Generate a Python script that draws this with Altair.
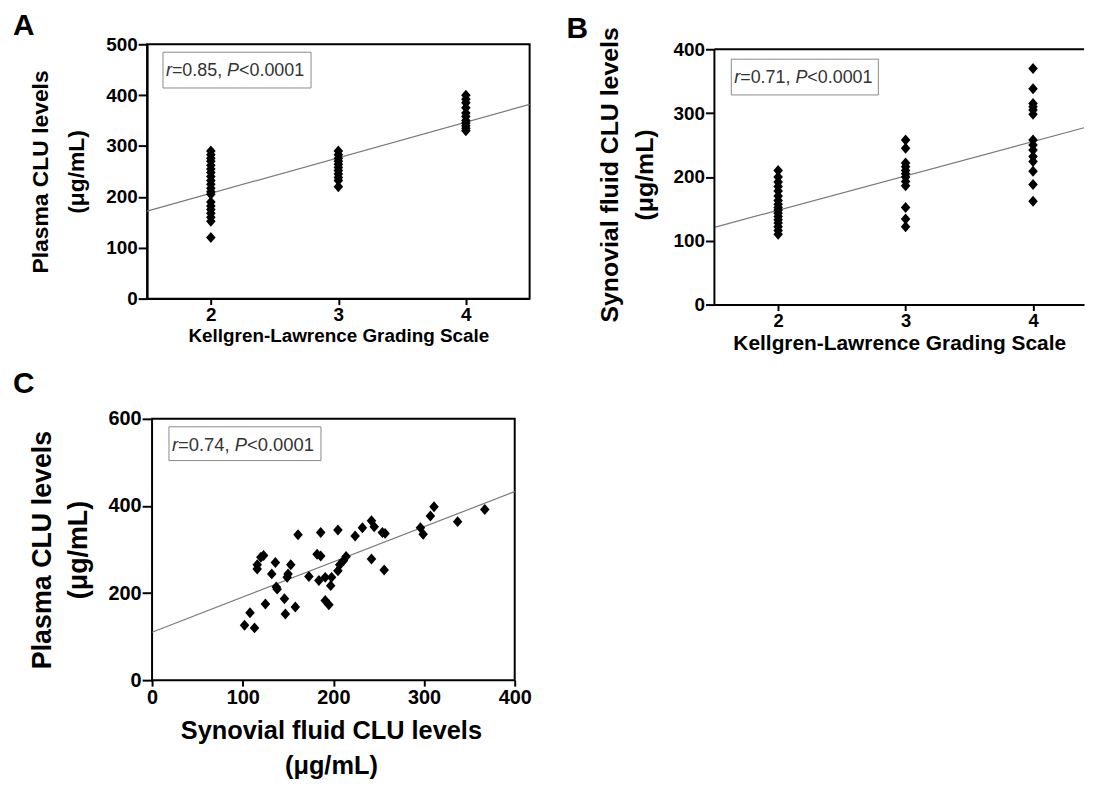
import altair as alt
import pandas as pd

FONT = "Liberation Sans"

# ---------------- Panel A: Plasma CLU vs KL grade ----------------
a_grade = [2] * 20 + [3] * 11 + [4] * 11
a_vals = [290, 283, 276, 270, 262, 255, 248, 240, 232, 225, 217, 210, 205, 190, 182, 175, 168, 160, 152, 120,
          290, 283, 276, 270, 264, 258, 252, 245, 238, 232, 220,
          400, 392, 385, 375, 365, 358, 350, 345, 340, 335, 330]
a_line_x = [1.5, 4.5]
a_line_y = [172, 382]
a_stats = ["r", "=0.85, ", "P", "<0.0001"]

# ---------------- Panel B: Synovial fluid CLU vs KL grade ----------------
b_grade = [2] * 17 + [3] * 12 + [4] * 14
b_vals = [210, 200, 192, 185, 178, 170, 163, 157, 152, 148, 143, 138, 133, 128, 122, 116, 110,
          258, 245, 222, 216, 210, 205, 200, 193, 186, 152, 134, 122,
          370, 338, 315, 310, 305, 298, 258, 250, 242, 232, 224, 209, 188, 162]
b_line_x = [1.5, 4.4]
b_line_y = [121, 277]
b_stats = ["r", "=0.71, ", "P", "<0.0001"]

# ---------------- Panel C: Plasma vs Synovial fluid ----------------
c_sf = [102, 113, 108, 125, 147, 158, 146, 138, 137, 132, 116, 116, 120, 123, 136, 153, 150, 149, 161, 173,
        184, 182, 186, 186, 191, 195, 191, 197, 198, 205, 207, 211, 214, 205, 224, 232, 242, 245, 254, 257,
        242, 256, 296, 299, 307, 311, 337, 367]
c_plasma = [126, 120, 155, 175, 152, 168, 187, 209, 214, 244, 255, 265, 282, 286, 270, 265, 244, 236, 334, 238,
            229, 289, 285, 339, 183, 173, 236, 217, 236, 251, 265, 274, 284, 345, 331, 350, 366, 352, 339, 337,
            278, 253, 350, 335, 377, 398, 364, 392]
c_line_x = [0, 400]
c_line_y = [110, 433]
c_stats = ["r", "=0.74, ", "P", "<0.0001"]

# Arial / Liberation Sans advance widths (per 1000 em)
ADV = {"0": 556, "1": 556, "2": 556, "3": 556, "4": 556, "5": 556, "6": 556, "7": 556, "8": 556, "9": 556,
       ".": 278, ",": 278, " ": 278, "=": 584, "<": 584, "r": 333, "P": 667}

DIAMOND = "M0,-1.15L1,0L0,1.15L-1,0Z"


def tw(s, fs):
    return sum(ADV.get(ch, 556) for ch in s) * fs / 1000.0


def axis(title, tfs, tpad, values, lfs, lh, orient, tick=6, lpad=1, domain=True, offset=0):
    kw = {}
    if offset:
        kw["offset"] = offset
    return alt.Axis(title=title, values=values, grid=False, orient=orient, format="d", domain=domain,
                    domainColor="black", domainWidth=2, tickColor="black", tickWidth=2, tickSize=tick,
                    labelFont=FONT, labelFontSize=lfs, labelFontWeight="bold", labelColor="black",
                    labelPadding=lpad, labelFlush=False, labelOverlap=False,
                    titleFont=FONT, titleFontSize=tfs, titleFontWeight="bold", titleColor="black",
                    titlePadding=tpad, titleLineHeight=lh, **kw)


def stats_box(parts, fs, bx0, bx1, by0, by1, tx0):
    one = pd.DataFrame({"k": [0]})
    layers = [alt.Chart(one).mark_rect(fill="white", stroke="#8a8a8a", strokeWidth=1).encode(
        x=alt.value(bx0), x2=alt.value(bx1), y=alt.value(by0), y2=alt.value(by1))]
    x = tx0
    ym = (by0 + by1) / 2.0 + 1
    for i, p in enumerate(parts):
        italic = i in (0, 2)
        layers.append(alt.Chart(pd.DataFrame({"t": [p]})).mark_text(
            align="left", baseline="middle", font=FONT, fontSize=fs,
            fontStyle="italic" if italic else "normal", color="#333333").encode(
            text="t:N", x=alt.value(x), y=alt.value(ym)))
        x += tw(p, fs)
    return layers


def letter(txt, x, y):
    return alt.Chart(pd.DataFrame({"t": [txt]})).mark_text(
        align="left", baseline="top", font=FONT, fontSize=30, fontWeight="bold", color="black").encode(
        text="t:N", x=alt.value(x), y=alt.value(y))


def one():
    return alt.Chart(pd.DataFrame({"k": [0]}))


def panel(xs, ys, lx, ly, xdom, ydom, xaxis, yaxis, stats, stats_fs, box, letter_spec):
    pts = pd.DataFrame({"x": xs, "y": ys})
    ln = pd.DataFrame({"x": lx, "y": ly})
    xsc = alt.Scale(domain=xdom, nice=False, zero=False)
    ysc = alt.Scale(domain=ydom, nice=False, zero=False)
    base_pts = alt.Chart(pts).mark_point(shape=DIAMOND, filled=True, color="black", size=92, opacity=1).encode(
        x=alt.X("x:Q", scale=xsc, axis=xaxis), y=alt.Y("y:Q", scale=ysc, axis=yaxis))
    line = alt.Chart(ln).mark_line(color="#7a7a7a", strokeWidth=1.2).encode(
        x=alt.X("x:Q", scale=xsc), y=alt.Y("y:Q", scale=ysc))
    layers = [line]
    layers += stats_box(stats, stats_fs, *box)
    layers.append(base_pts)
    layers.append(letter(*letter_spec))
    return layers


# ---- A ----
layA = panel(a_grade, a_vals, a_line_x, a_line_y, [1.5, 4.5], [0, 500],
             axis("Kellgren-Lawrence Grading Scale", 19, 2, [2, 3, 4], 19, 24, "bottom", tick=6, lpad=1),
             axis(["Plasma CLU levels", "(μg/mL)"], 23, 17, [0, 100, 200, 300, 400, 500], 19, 37, "left",
                  tick=9, lpad=1),
             a_stats, 18, (16, 165, 8, 44, 19), ("A", -135, -33))
chartA = alt.layer(*layA).properties(width=385, height=256,
                                     view=alt.ViewBackground(stroke="black", strokeWidth=2))

# ---- B ---- (plot area starts a few px above the 400 line so that its frame sits lower than A's)
B_W, B_H = 372, 262
layB = panel(b_grade, b_vals, b_line_x, b_line_y, [1.5, 4.4], [0, 407.8],
             axis("Kellgren-Lawrence Grading Scale", 21, 3, [2, 3, 4], 18.5, 26, "bottom", tick=6, lpad=1),
             axis(["Synovial fluid CLU levels", "(μg/mL)"], 25, 16, [0, 100, 200, 300, 400], 19, 35,
                  "left", tick=9, lpad=1, domain=False),
             b_stats, 18, (17, 165, 15, 51, 20), ("B", -149, -30))
layB.append(one().mark_rule(color="black", strokeWidth=2).encode(
    x=alt.value(0), y=alt.datum(0), y2=alt.datum(400)))
layB.append(one().mark_rule(color="black", strokeWidth=2).encode(
    x=alt.value(0), x2=alt.value(B_W), y=alt.datum(400)))
chartB = alt.layer(*layB).properties(width=B_W, height=B_H, view=alt.ViewBackground(strokeOpacity=0))

# ---- C ---- (plot area starts 5px left of x=0 so its frame sits right of A's)
C_W, C_H = 370, 263
layC = panel(c_sf, c_plasma, c_line_x, c_line_y, [-5.48, 400], [0, 600],
             axis(["Synovial fluid CLU levels", "(μg/mL)"], 25.5, 11, [0, 100, 200, 300, 400], 20, 35,
                  "bottom", tick=6, lpad=2, domain=False),
             axis(["Plasma CLU levels", "(μg/mL)"], 27, 16, [0, 200, 400, 600], 20, 36, "left",
                  tick=10, lpad=1, domain=False, offset=-5),
             c_stats, 18.5, (22, 175, 8, 42, 25), ("C", -135, -50))
layC.insert(0, one().mark_rect(fillOpacity=0, stroke="black", strokeWidth=2).encode(
    x=alt.datum(0), x2=alt.datum(400), y=alt.datum(0), y2=alt.datum(600)))
chartC = alt.layer(*layC).properties(width=C_W, height=C_H, view=alt.ViewBackground(strokeOpacity=0))

chart = alt.concat(
    chartA, chartB, chartC, columns=2, spacing={"row": 15, "column": 33}
).properties(
    padding={"left": 4, "top": 0, "right": 0, "bottom": 0}
).configure(background="white")

chart.save("out.html", embed_options={"renderer": "svg", "actions": False})
